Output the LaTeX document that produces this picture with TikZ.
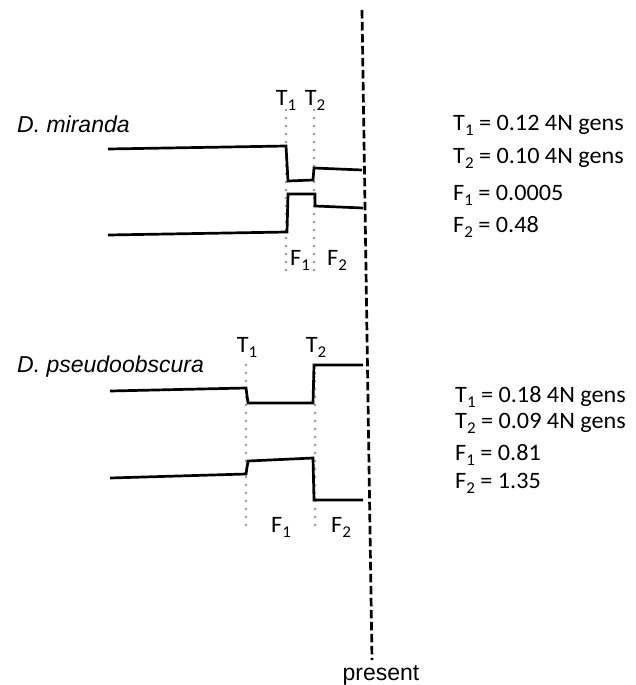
\documentclass[tikz,border=0pt]{standalone}
\usepackage{fontspec}
\setmainfont{Carlito}[FakeStretch=1.03]
\newfontfamily\arialfont{Liberation Sans}
\newcommand\subn[1]{\raisebox{-5pt}{\fontsize{16.5}{17}\selectfont#1}}
\begin{document}
\begin{tikzpicture}[x=1pt,y=-1pt,
  lineage/.style={line width=2.7pt, line join=miter, line cap=butt},
  epoch/.style={draw=black!42, line width=2.8pt, line cap=round, dash pattern=on 0pt off 8pt},
  presentline/.style={line width=2.7pt, dash pattern=on 8.5pt off 3.5pt},
  lab/.style={anchor=base, inner sep=0pt, font=\fontsize{23.5}{27}\selectfont},
  param/.style={anchor=base west, inner sep=0pt, font=\fontsize{23.5}{27}\selectfont},
  species/.style={anchor=base west, inner sep=0pt, font=\arialfont\itshape\fontsize{23}{27}\selectfont}]
\useasboundingbox (0,0) rectangle (636,685);

% time axis ending at the present
\node[anchor=base, inner sep=0pt, font=\arialfont\fontsize{23}{27}\selectfont] (present) at (381,680) {present};
\coordinate (axtop) at (362,10);
\coordinate (axbot) at (372,660);
\draw[presentline] (axtop) -- (axbot);

% ---------- D. miranda ----------
\node[species] (mir) at (17,132) {D. miranda};
\draw[epoch] (286,110) -- (286,272);
\draw[epoch] (314,110) -- (314,272);
\node[lab] (mT1) at (286,105) {T\subn{1}};
\node[lab] (mT2) at (315,105) {T\subn{2}};
\node[lab] (mF1) at (300,265) {F\subn{1}};
\node[lab] (mF2) at (337,265) {F\subn{2}};
\draw[lineage] (108,149) -- (286,146) -- (288,181) -- (313,180) -- (314,168) -- (362,170);
\draw[lineage] (108,235) -- (287,232) -- (288,194) -- (315,194) -- (315,206) -- (363,208);

\node[param] (mp1) at (453,130) {T\subn{1} = 0.12 4N gens};
\node[param] (mp2) at (453,163) {T\subn{2} = 0.10 4N gens};
\node[param] (mp3) at (453,200) {F\subn{1} = 0.0005};
\node[param] (mp4) at (453,232) {F\subn{2} = 0.48};

% ---------- D. pseudoobscura ----------
\node[species] (pse) at (17,372) {D. pseudoobscura};
\draw[epoch] (246,365) -- (246,525);
\draw[epoch] (315,365) -- (315,525);
\node[lab] (pT1) at (247,352) {T\subn{1}};
\node[lab] (pT2) at (316,352) {T\subn{2}};
\node[lab] (pF1) at (281,532) {F\subn{1}};
\node[lab] (pF2) at (341,532) {F\subn{2}};
\draw[lineage] (110,391) -- (246,388) -- (248,403) -- (313,403) -- (314,365) -- (363,365);
\draw[lineage] (110,478) -- (246,474) -- (248,461) -- (313,458) -- (314,500) -- (363,500);

\node[param] (pp1) at (455,402) {T\subn{1} = 0.18 4N gens};
\node[param] (pp2) at (455,428) {T\subn{2} = 0.09 4N gens};
\node[param] (pp3) at (455,460) {F\subn{1} = 0.81};
\node[param] (pp4) at (455,488) {F\subn{2} = 1.35};
\end{tikzpicture}
\end{document}
